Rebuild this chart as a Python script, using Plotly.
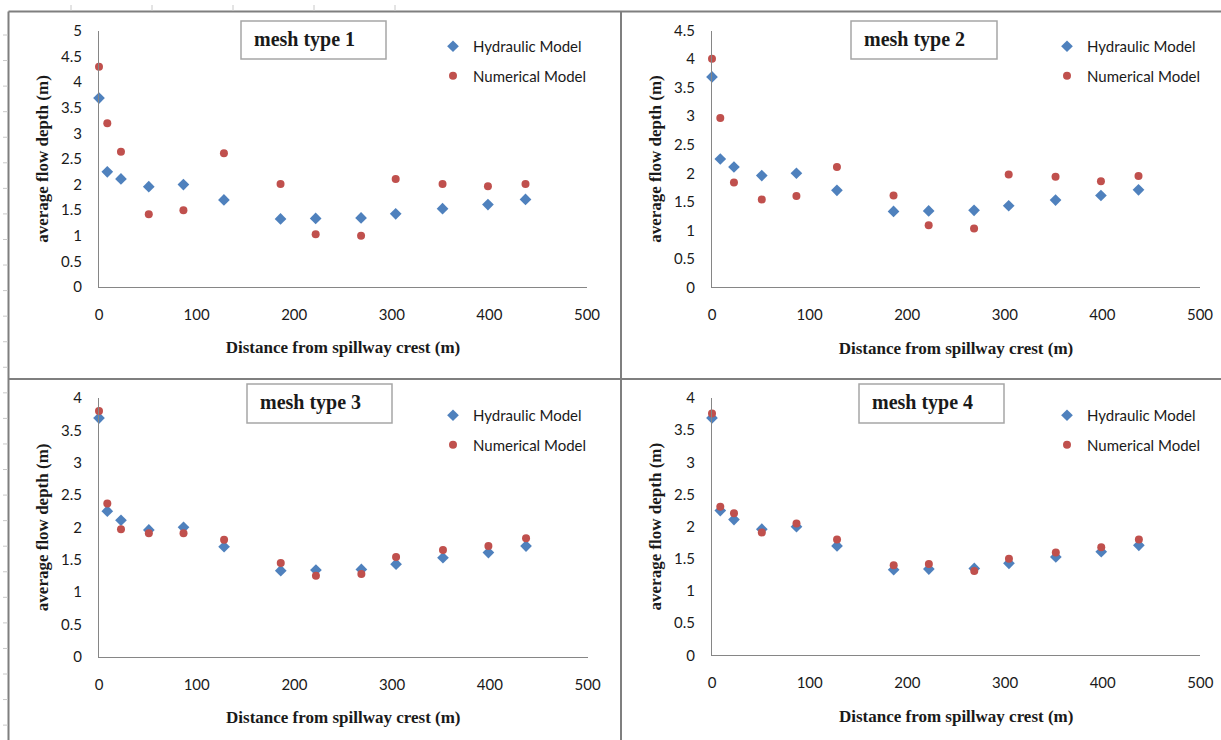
import plotly.graph_objects as go

# ---------------- data ----------------
distance = [0, 8.5, 22.5, 51, 86.5, 128, 186, 222, 268.5, 304, 352, 398.5, 437]

hydraulic = [3.69, 2.25, 2.11, 1.96, 2.0, 1.70, 1.33, 1.34, 1.35, 1.43, 1.53, 1.61, 1.71]

numerical_mesh1 = [4.30, 3.20, 2.64, 1.42, 1.50, 2.61, 2.01, 1.03, 1.00, 2.11, 2.01, 1.97, 2.01]
numerical_mesh2 = [4.01, 2.97, 1.84, 1.54, 1.60, 2.11, 1.61, 1.09, 1.03, 1.98, 1.94, 1.86, 1.95]
numerical_mesh3 = [3.80, 2.37, 1.97, 1.91, 1.91, 1.81, 1.45, 1.25, 1.28, 1.54, 1.65, 1.71, 1.83]
numerical_mesh4 = [3.76, 2.31, 2.21, 1.91, 2.05, 1.80, 1.40, 1.42, 1.31, 1.50, 1.60, 1.68, 1.80]

panel_titles = ["mesh type 1", "mesh type 2", "mesh type 3", "mesh type 4"]
y_max = [5, 4.5, 4, 4]
series_names = ["Hydraulic Model", "Numerical Model"]
x_title = "Distance from spillway crest (m)"
y_title = "average flow depth (m)"

numerical = [numerical_mesh1, numerical_mesh2, numerical_mesh3, numerical_mesh4]

# ---------------- layout geometry (pixels) ----------------
W, H = 1221, 740
# plot areas: (left, right, top, bottom)
areas = [
    (99, 587, 31, 287),
    (712, 1200, 30.7, 287.3),
    (99, 587.6, 398, 656.7),
    (712, 1200.4, 398, 655.3),
]
# title boxes: (x0, x1, y0, y1)
title_boxes = [
    (241, 386, 21, 59),
    (851, 997, 21, 59),
    (247, 392, 384, 423),
    (859, 1004, 384, 423),
]
legend_pos = [(433, 30), (1047, 30), (433, 399), (1047, 399)]

BLUE = "#4F81BD"
RED = "#C0504D"
AXIS = "#868686"
TXT = "#1a1a1a"
SANS = "Lato, Arial, sans-serif"
SERIF = "Liberation Serif, Times New Roman, serif"

fig = go.Figure()

def px(x):
    return x / W

def py(y):
    return 1 - y / H

for i in range(4):
    ax = "" if i == 0 else str(i + 1)
    leg = "legend" if i == 0 else f"legend{i + 1}"
    fig.add_trace(go.Scatter(
        x=distance, y=hydraulic, mode="markers", name=series_names[0],
        marker=dict(symbol="diamond", size=9, color=BLUE),
        xaxis="x" + ax, yaxis="y" + ax, legend=leg, cliponaxis=False,
        legendgroup=f"h{i}",
    ))
    fig.add_trace(go.Scatter(
        x=distance, y=numerical[i], mode="markers", name=series_names[1],
        marker=dict(symbol="circle", size=8, color=RED),
        xaxis="x" + ax, yaxis="y" + ax, legend=leg, cliponaxis=False,
        legendgroup=f"n{i}",
    ))

layout = dict(
    width=W, height=H, autosize=False,
    margin=dict(l=0, r=0, t=0, b=0, pad=0, autoexpand=False),
    paper_bgcolor="white", plot_bgcolor="white",
    font=dict(family=SANS, size=15, color=TXT),
    showlegend=True,
)

for i in range(4):
    l, r, t, b = areas[i]
    ax = "" if i == 0 else str(i + 1)
    layout["xaxis" + ax] = dict(
        domain=[px(l), px(r)], range=[0, 500], dtick=100, tick0=0,
        showline=True, linecolor=AXIS, linewidth=1, showgrid=False,
        zeroline=False, ticks="", ticklabelstandoff=14, automargin=False,
        tickfont=dict(family=SANS, size=15, color=TXT),
        anchor="y" + ax,
        title=dict(text=x_title, standoff=19,
                   font=dict(family=SERIF, size=17, color=TXT, weight="bold")),
    )
    layout["yaxis" + ax] = dict(
        domain=[py(b), py(t)], range=[0, y_max[i]], dtick=0.5, tick0=0,
        showline=True, linecolor=AXIS, linewidth=1, showgrid=False,
        zeroline=False, ticks="", ticklabelstandoff=13, automargin=False,
        tickfont=dict(family=SANS, size=15, color=TXT),
        anchor="x" + ax,
        title=dict(text=y_title, standoff=8,
                   font=dict(family=SERIF, size=17, color=TXT, weight="bold")),
    )
    lx, ly = legend_pos[i]
    leg = "legend" if i == 0 else f"legend{i + 1}"
    layout[leg] = dict(
        x=px(lx), y=py(ly), xanchor="left", yanchor="top",
        bgcolor="rgba(0,0,0,0)", borderwidth=0, itemwidth=30,
        tracegroupgap=7,
        font=dict(family=SANS, size=15, color=TXT),
    )

fig.update_layout(**layout)

# title boxes
for i in range(4):
    x0, x1, y0, y1 = title_boxes[i]
    fig.add_shape(type="rect", xref="paper", yref="paper",
                  x0=px(x0), x1=px(x1), y0=py(y1), y1=py(y0),
                  line=dict(color="#A6A6A6", width=1.5), fillcolor="white",
                  layer="below")
    fig.add_annotation(xref="paper", yref="paper",
                       x=px(x0 + 11), y=py((y0 + y1) / 2 - 1),
                       xanchor="left", yanchor="middle", showarrow=False,
                       text="<b>" + panel_titles[i] + "</b>",
                       font=dict(family=SERIF, size=20, color=TXT))

# panel frame lines
frame = "#7F7F7F"
frame_lines = [
    (8.5, 11.5, W, 11.5),     # top border
    (8.5, 11.5, 8.5, H),      # left border
    (621, 11.5, 621, H),      # vertical divider
    (8.5, 379, W, 379),       # horizontal divider
]
for x0, y0, x1, y1 in frame_lines:
    fig.add_shape(type="line", xref="paper", yref="paper",
                  x0=px(x0), y0=py(y0), x1=px(x1), y1=py(y1),
                  line=dict(color=frame, width=2))

# spreadsheet gridline stubs outside the frame
for k in range(5):
    xx = 71 + 81 * k
    fig.add_shape(type="line", xref="paper", yref="paper",
                  x0=px(xx), y0=py(5), x1=px(xx), y1=py(11),
                  line=dict(color="#C8C8C8", width=1))
for k in range(28):
    yy = 35 + 25.56 * k
    fig.add_shape(type="line", xref="paper", yref="paper",
                  x0=px(3), y0=py(yy), x1=px(8), y1=py(yy),
                  line=dict(color="#C8C8C8", width=1))

fig.write_html(
    "out.html",
    config={"displayModeBar": False, "responsive": False},
    post_script=(
        "document.documentElement.style.margin='0';"
        "document.documentElement.style.padding='0';"
        "document.documentElement.style.overflow='hidden';"
        "document.body.style.margin='0';"
        "document.body.style.padding='0';"
        "document.body.style.overflow='hidden';"
        "var g=document.getElementById('{plot_id}');"
        "g.style.position='fixed';g.style.left='0px';g.style.top='0px';"
    ),
)
